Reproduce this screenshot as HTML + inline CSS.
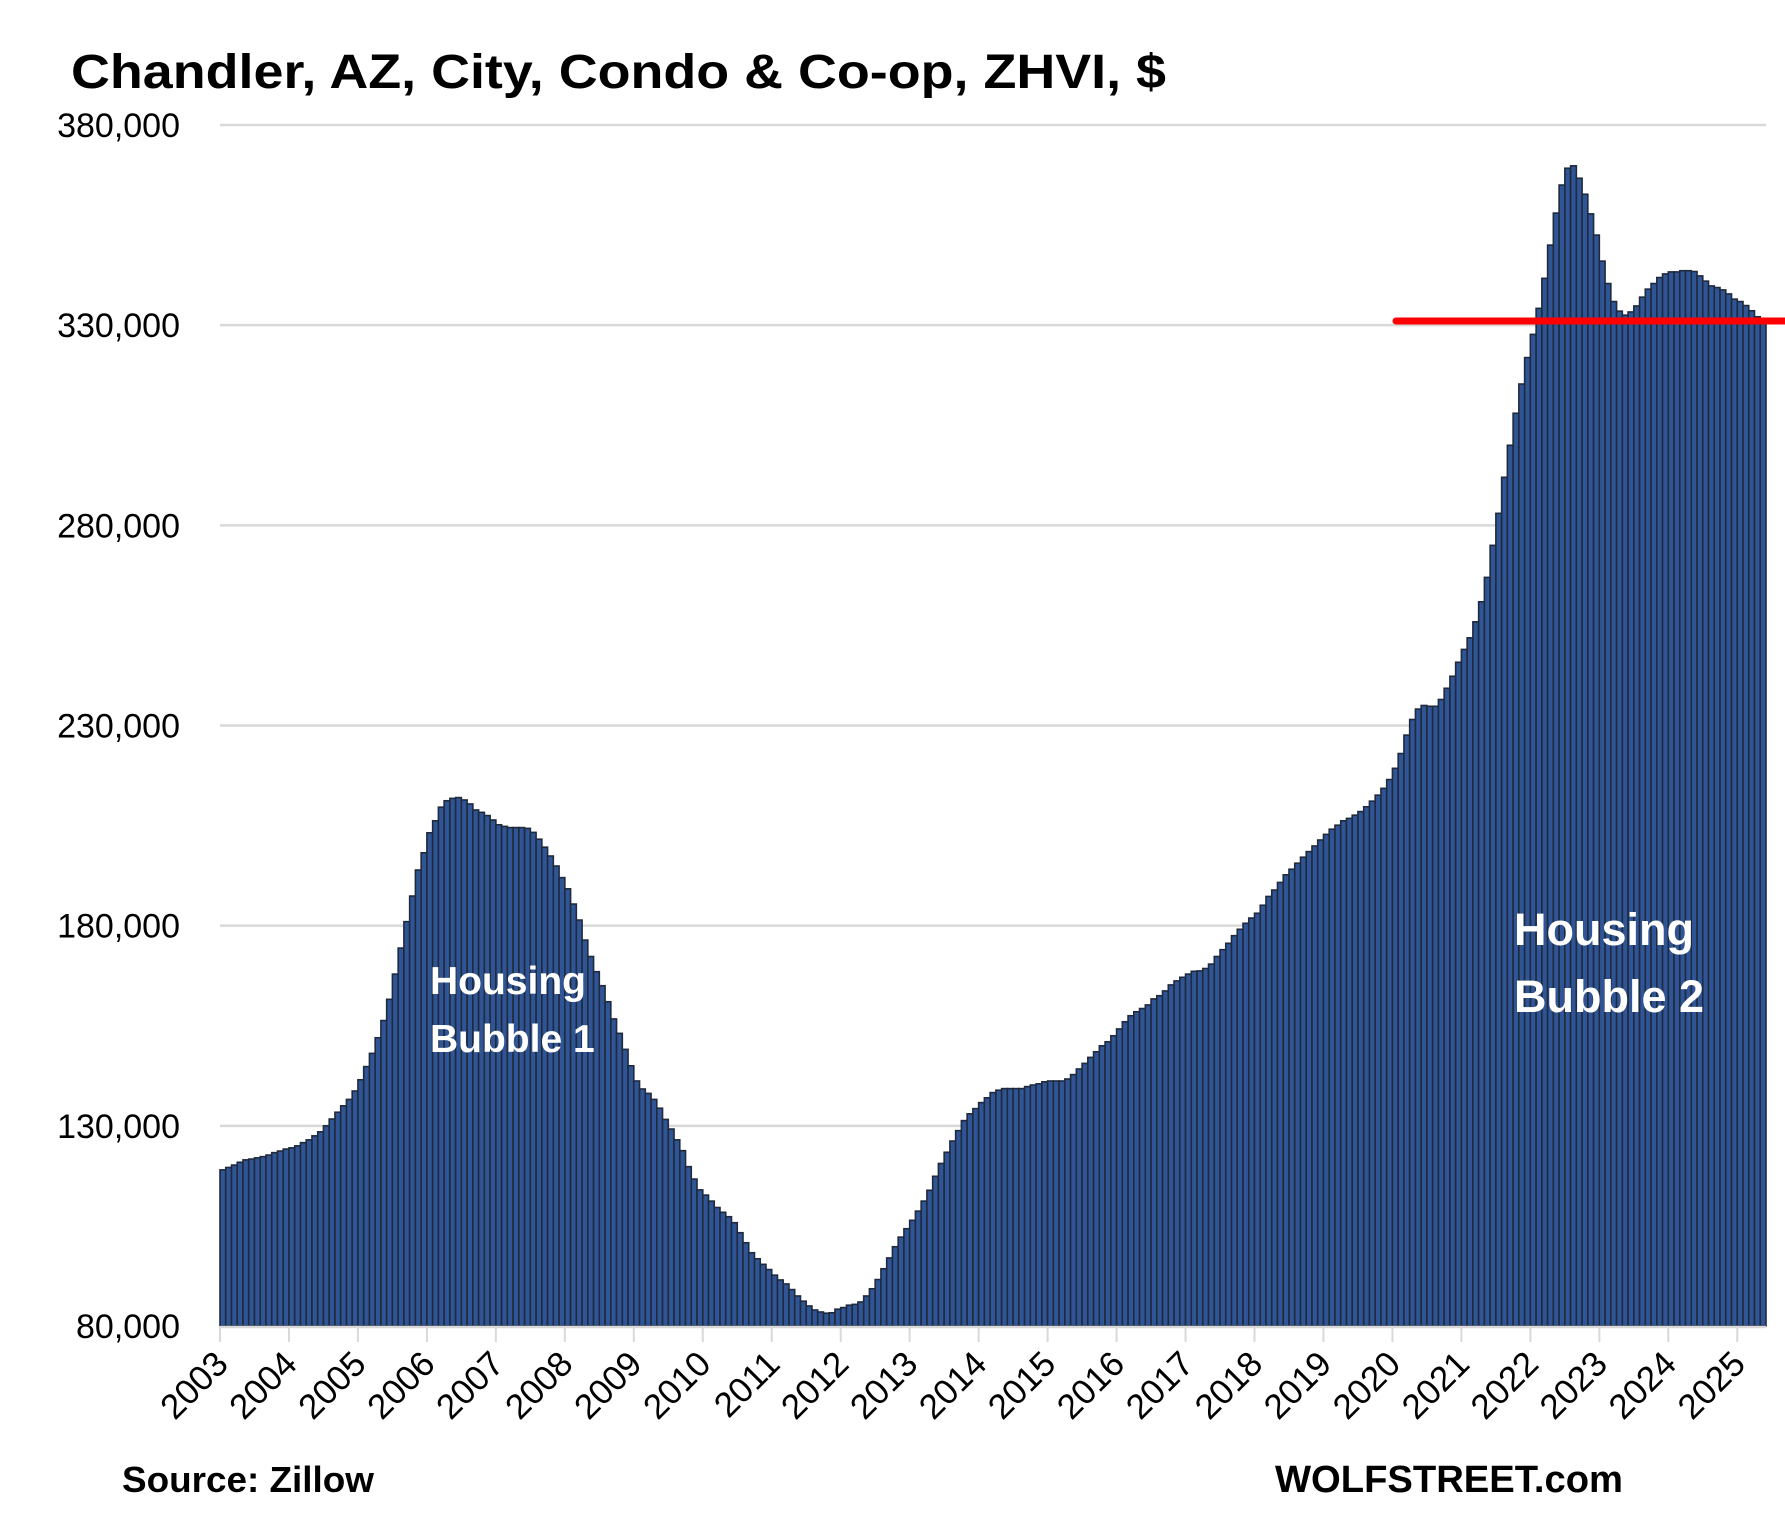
<!DOCTYPE html>
<html><head><meta charset="utf-8"><style>
html,body{margin:0;padding:0;background:#fff;}
svg{display:block;}
text{font-family:"Liberation Sans",sans-serif;}
</style></head><body>
<svg id="chart" width="1785" height="1518" viewBox="0 0 1785 1518" xmlns="http://www.w3.org/2000/svg">
<text x="71" y="88" font-size="48" font-weight="bold" textLength="1095" lengthAdjust="spacingAndGlyphs">Chandler, AZ, City, Condo &amp; Co-op, ZHVI, $</text>
<g id="grid"></g>
<g id="yaxis"></g>
<g id="bars"></g>
<g id="xaxis"></g>
<line x1="1396" y1="321" x2="1785" y2="321" stroke="#ff0000" stroke-width="7" stroke-linecap="round"/>
<text font-size="39" font-weight="bold" fill="#fff"><tspan x="430" y="994">Housing</tspan><tspan x="430" y="1052">Bubble 1</tspan></text>
<text font-size="45" font-weight="bold" fill="#fff"><tspan x="1514" y="945">Housing</tspan><tspan x="1514" y="1012">Bubble 2</tspan></text>
<text x="122" y="1492" font-size="36" font-weight="bold" textLength="252" lengthAdjust="spacingAndGlyphs">Source: Zillow</text>
<text x="1275" y="1492" font-size="38" font-weight="bold" textLength="348" lengthAdjust="spacingAndGlyphs">WOLFSTREET.com</text>
</svg>
<script>
const years = ["2003","2004","2005","2006","2007","2008","2009","2010","2011","2012","2013","2014","2015","2016","2017","2018","2019","2020","2021","2022","2023","2024","2025"];
const yTicks = [80000,130000,180000,230000,280000,330000,380000];
const yTickLabels = ["80,000","130,000","180,000","230,000","280,000","330,000","380,000"];
const values = [
119.0,119.6,120.2,120.9,121.5,121.7,122,122.3,122.7,123.3,123.7,124.2,
124.5,125,125.8,126.5,127.5,128.5,130,131.7,133.4,135,136.6,138.7,
141.5,144.8,148.1,152,156.3,161.6,167.9,174.4,181,187.4,193.9,198.2,
203.2,206.2,209.6,211.2,211.8,212,211.4,210.4,208.9,208.3,207.5,206.4,
205.2,204.8,204.5,204.5,204.5,204.3,203.3,201.6,199.6,197.4,194.9,192,
189.2,185.4,181.4,176.4,172.3,168.5,165,161,156.7,153.1,149.1,145,
141.2,139.2,138.1,136.6,134.4,131.6,129.2,126.5,123.8,119.8,116.7,114,
112.7,111.2,109.6,108.4,107.3,105.8,103.3,100.8,98.3,96.8,95.4,94.1,
92.7,91.5,90.5,89.1,87.5,86.2,85,84,83.5,83.2,83.3,84.2,
84.6,85.2,85.4,86,87.5,89.3,91.6,94.3,97,99.8,102.2,104.3,
106.4,108.7,111.2,113.9,117.4,120.6,123.4,126.2,128.8,131.3,133,134.3,
135.8,137,138.3,138.9,139.3,139.3,139.3,139.3,139.8,140.2,140.5,141,
141.2,141.2,141.2,141.7,142.8,144.2,145.6,147.1,148.5,150,151,152.5,
154.2,156,157.5,158.5,159.3,160.2,161.7,162.5,163.7,165.2,166.2,167.1,
167.9,168.6,168.7,169.3,170.4,172.3,174,175.6,177.5,179.1,180.6,181.9,
183.1,185.1,187.3,188.9,190.8,192.7,194.1,195.6,197.1,198.5,199.9,201.4,
202.8,204.1,205.1,206.2,206.8,207.6,208.5,209.7,211.1,212.6,214.3,216.5,
219.3,223,227.6,231.5,234.1,235,234.8,234.8,236.5,239.3,242.3,245.8,
249,251.9,255.9,260.9,267,275,283,292,300,308,315.3,321.9,
327.7,334.2,341.7,350,358,365,369.2,369.8,366.7,362.7,357.8,352.5,
346,340.4,335.9,333.5,332.5,333.3,334.8,337,339,340.4,341.9,342.8,
343.3,343.3,343.6,343.6,343.4,342.3,341,339.8,339.4,338.8,337.8,336.5,
335.9,334.9,333.6,332.1,331.5];
const NS="http://www.w3.org/2000/svg";
const X0=220, X1=1766, Y0=1326, Y1=125, VMIN=80000, VMAX=380000;
const slot=(X1-X0)/values.length;
function xScale(i){return X0+i*slot;}
function yScale(v){return Y0-(v-VMIN)/(VMAX-VMIN)*(Y0-Y1);}
function mk(tag,attrs,parent){const e=document.createElementNS(NS,tag);for(const k in attrs)e.setAttribute(k,attrs[k]);parent.appendChild(e);return e;}
const grid=document.getElementById('grid'), yaxis=document.getElementById('yaxis'), bars=document.getElementById('bars'), xaxis=document.getElementById('xaxis');
yTicks.forEach((t,i)=>{
  if(i>0){const g=mk('line',{x1:X0,x2:X1,y1:yScale(t),y2:yScale(t),stroke:'#d9d9d9','stroke-width':2.5},grid);
  
  }
  const tx=mk('text',{x:180,y:yScale(t)+12,'text-anchor':'end','font-size':34,fill:'#000'},yaxis);
  tx.textContent=yTickLabels[i];
  
  
});
values.forEach((v,i)=>{
  const y=yScale(v*1000);
  const r=mk('rect',{x:xScale(i),y:y,width:slot,height:Y0-y,fill:'#2f5597',stroke:'#1f2a3c','stroke-width':1.6},bars);
  
  
});
const ax=mk('line',{x1:X0,x2:X1,y1:Y0+1,y2:Y0+1,stroke:'#d9d9d9','stroke-width':2.5},xaxis);


years.forEach((yr,k)=>{
  const x=xScale(k*12);
  const tk=mk('line',{x1:x,x2:x,y1:Y0,y2:Y0+16,stroke:'#d9d9d9','stroke-width':2},xaxis);
  
  
  const t=mk('text',{x:x+10,y:Y0+40,'text-anchor':'end','font-size':35,fill:'#000',transform:`rotate(-45 ${x+10} ${Y0+40})`},xaxis);
  t.textContent=yr;
  
  
});
</script>
</body></html>
